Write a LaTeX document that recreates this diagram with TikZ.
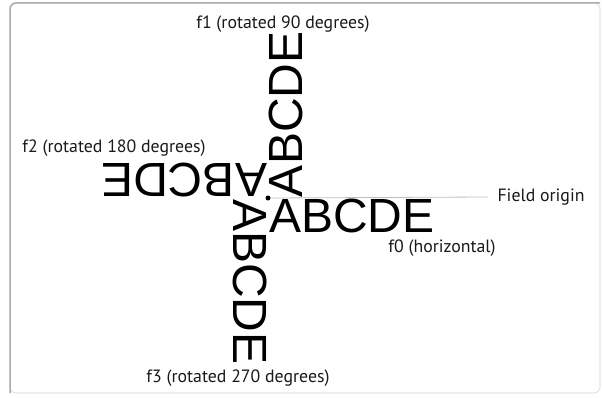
\documentclass[tikz,border=0pt]{standalone}
\usepackage{fontspec}
\setmainfont{Liberation Sans}
\newfontfamily\labelfont{PT Sans}
\usetikzlibrary{calc, positioning}

\tikzset{
  field/.style={anchor=north west, inner sep=0.8pt, font=\fontsize{48}{48}\selectfont},
  caption/.style={font=\labelfont\fontsize{17.8}{18}\selectfont, text=black!90},
}

\begin{document}
\begin{tikzpicture}[x=1pt, y=1pt]
\def\picw{602}
\def\pich{397}
\useasboundingbox (0,0) rectangle (\picw,\pich);
\coordinate (O) at (268,199);
% frame
\draw[gray!20, line width=1.2pt, rounded corners=6pt] (10,4) rectangle (600,394);
\draw[gray!65, line width=1.5pt, rounded corners=6pt] (10,4) -- (10,394) -- (600,394);
% the four fields, all hung from the same origin
\node[field] (f0) at (O) {ABCDE};
\node[field, rotate=90] (f1) at (O) {ABCDE};
\node[field, rotate=180] (f2) at (O) {ABCDE};
\node[field, rotate=270] (f3) at (O) {ABCDE};
\node[circle, fill, inner sep=0pt, minimum size=5pt] (dot) at (O) {};
% labels
\node[caption] (l1) at ($(O)+(15,174)$) {f1 (rotated 90 degrees)};
\node[caption] (l2) at ($(O)+(-154,50)$) {f2 (rotated 180 degrees)};
\node[caption, anchor=west] (lo) at ($(O)+(226,1)$) {Field origin};
\node[caption] (l0) at ($(O)+(174,-50)$) {f0 (horizontal)};
\node[caption] (l3) at ($(O)+(-30,-180)$) {f3 (rotated 270 degrees)};
\draw[gray!50, line width=0.8pt] (dot) -- ($(lo.west)+(-6,0)$);
\end{tikzpicture}
\end{document}
